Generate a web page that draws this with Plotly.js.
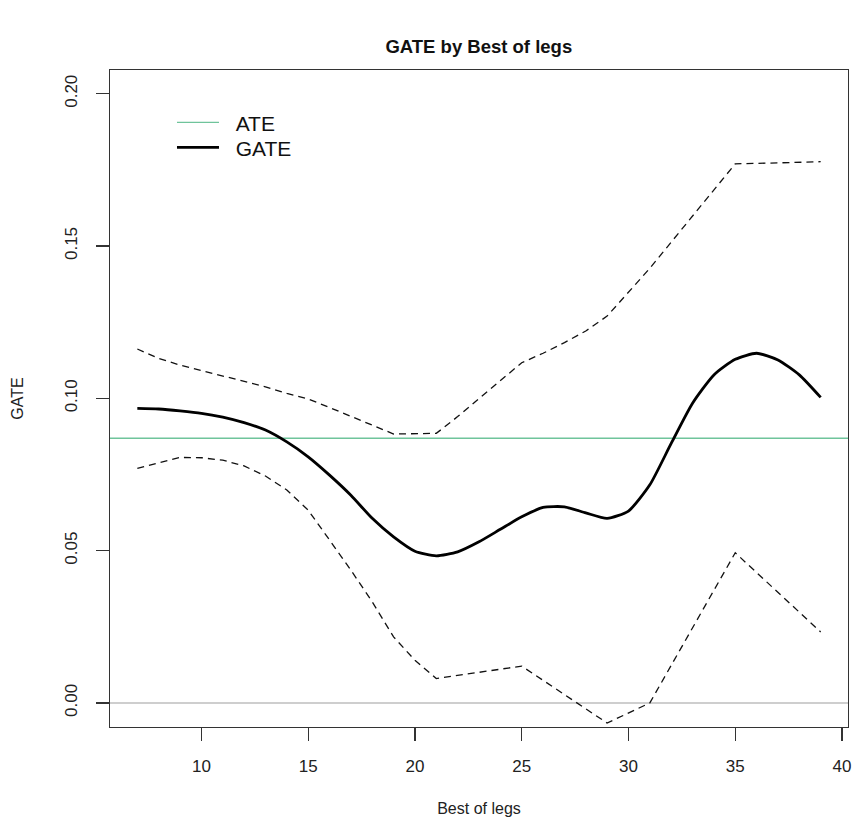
<!DOCTYPE html>
<html>
<head>
<meta charset="utf-8">
<script src="https://cdn.plot.ly/plotly-3.0.1.min.js"></script>
<style>html,body{margin:0;padding:0;background:#fff;}#chart{width:855px;height:834px;}</style>
</head>
<body>
<div id="chart"></div>
<script>
// Best of legs grid and GATE estimate
const gateX = [7,8,9,10,11,12,13,14,15,16,17,18,19,20,21,22,23,24,25,26,27,28,29,30,31,32,33,34,35,36,37,38,39];
const gateY = [0.0967,0.0965,0.0959,0.0951,0.0938,0.0920,0.0896,0.0857,0.0808,0.0748,0.0682,0.0606,0.0545,0.0498,0.0483,0.0496,0.0529,0.0570,0.0611,0.0642,0.0644,0.0624,0.0606,0.0630,0.0716,0.0852,0.0984,0.1077,0.1128,0.1148,0.1126,0.1077,0.1003];

// Upper confidence band
const upperX = [7,8,9,10,11,12,13,14,15,16,17,18,19,20,21,22,23,24,25,26,27,28,29,31,33,35,37,39];
const upperY = [0.1162,0.1131,0.1109,0.1091,0.1073,0.1057,0.1038,0.1016,0.0998,0.0970,0.0942,0.0912,0.0883,0.0883,0.0885,0.0940,0.1000,0.1060,0.1117,0.1148,0.1183,0.1221,0.1270,0.1427,0.1597,0.1770,0.1773,0.1777];

// Lower confidence band
const lowerX = [7,8,9,10,11,12,13,14,15,16,17,18,19,20,21,25,29,31,35,39];
const lowerY = [0.0770,0.0788,0.0806,0.0805,0.0797,0.0778,0.0745,0.0699,0.0633,0.0535,0.0436,0.0332,0.0217,0.0140,0.0080,0.0121,-0.0066,0.0000,0.0493,0.0233];

const ateValue = 0.0869;
const zeroValue = 0;
const xTicks = [10,15,20,25,30,35,40];
const yTicks = [0.00,0.05,0.10,0.15,0.20];
const yTickText = ["0.00","0.05","0.10","0.15","0.20"];
const legendNames = ["ATE","GATE"];

const FONT = "Liberation Sans, Arial, sans-serif";
const dashStyle = {color:"#111", width:1.3, dash:"7px,5px"};
const pad = "\u00a0\u00a0";

const traces = [
  {x: upperX, y: upperY, mode:"lines", line: dashStyle, showlegend:false, hoverinfo:"skip"},
  {x: lowerX, y: lowerY, mode:"lines", line: dashStyle, showlegend:false, hoverinfo:"skip"},
  {x: [null], y: [null], mode:"lines", name: pad + legendNames[0], line:{color:"#6fc49b", width:1.4}, legend:"legend"},
  {x: gateX, y: gateY, mode:"lines", name: pad + legendNames[1], line:{color:"#000", width:2.8, shape:"spline", smoothing:0.6}, legend:"legend2"}
];

const legendBase = {x:0.084, xanchor:"left", yanchor:"top", bgcolor:"rgba(0,0,0,0)", borderwidth:0, font:{family:FONT, size:21, color:"#111"}, itemwidth:42};

const layout = {
  width: 855, height: 834,
  paper_bgcolor:"#fff", plot_bgcolor:"#fff",
  margin:{l:110, r:7, t:70, b:107},
  font:{family:FONT, size:16, color:"#222"},
  title:{text:"<b>GATE by Best of legs</b>", x:0.56, xanchor:"center", y:0.944, yanchor:"middle", font:{family:FONT, size:18.5, color:"#111"}},
  showlegend:true,
  legend: Object.assign({}, legendBase, {y:0.951}),
  legend2: Object.assign({}, legendBase, {y:0.913}),
  xaxis:{
    range:[5.72, 40.28], tickvals:xTicks, ticks:"outside", ticklen:13, tickwidth:1.3, tickcolor:"#333",
    showline:true, linecolor:"#333", linewidth:1.4, mirror:true, showgrid:false, zeroline:false,
    ticklabelstandoff:10, tickfont:{family:FONT, size:17, color:"#222"},
    title:{text:"Best of legs", standoff:28, font:{family:FONT, size:16, color:"#222"}}
  },
  yaxis:{
    range:[-0.0079, 0.2078], tickvals:yTicks, ticktext:yTickText, tickangle:-90, ticks:"outside", ticklen:13, tickwidth:1.3, tickcolor:"#333",
    showline:true, linecolor:"#333", linewidth:1.4, mirror:true, showgrid:false, zeroline:false,
    ticklabelstandoff:12, tickfont:{family:FONT, size:17, color:"#222"},
    title:{text:"GATE", standoff:34, font:{family:FONT, size:16, color:"#222"}}
  },
  shapes:[
    {type:"line", xref:"paper", x0:0, x1:1, yref:"y", y0:zeroValue, y1:zeroValue, line:{color:"#bebebe", width:1.5}, layer:"below"},
    {type:"line", xref:"paper", x0:0, x1:1, yref:"y", y0:ateValue, y1:ateValue, line:{color:"#6fc49b", width:1.4}, layer:"below"}
  ]
};

Plotly.newPlot("chart", traces, layout, {displayModeBar:false, staticPlot:true});
</script>
</body>
</html>
